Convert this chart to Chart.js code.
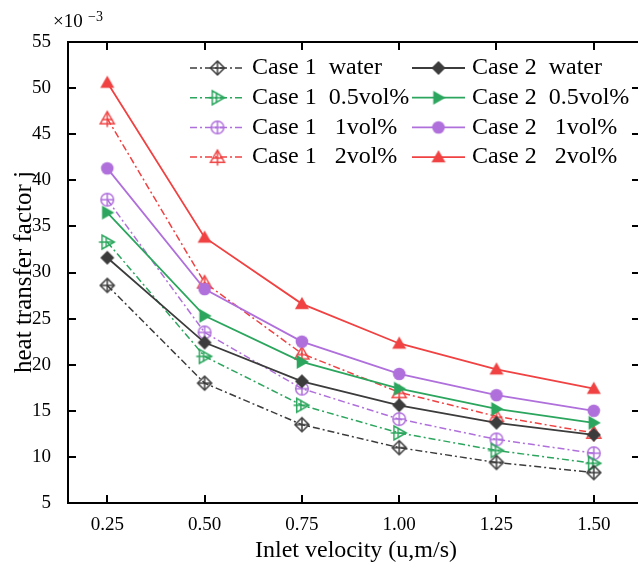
<!DOCTYPE html>
<html>
<head>
<meta charset="utf-8">
<script src="https://cdn.jsdelivr.net/npm/chart.js@4.4.0/dist/chart.umd.min.js"></script>
<style>
html, body { margin: 0; padding: 0; background: #fff; }
</style>
</head>
<body>
<canvas id="jChart" width="638" height="566"></canvas>
<script>
// data (j in units of 1e-3)
var velocity = [0.25, 0.50, 0.75, 1.00, 1.25, 1.50];
var case1Water = [28.6, 18.0, 13.5, 11.0, 9.4, 8.3];
var case1Vol05 = [33.3, 20.9, 15.6, 12.6, 10.7, 9.3];
var case1Vol1 = [37.9, 23.5, 17.4, 14.1, 11.9, 10.4];
var case1Vol2 = [46.7, 28.9, 21.2, 17.0, 14.4, 12.6];
var case2Water = [31.6, 22.4, 18.2, 15.6, 13.7, 12.4];
var case2Vol05 = [36.5, 25.3, 20.3, 17.4, 15.2, 13.7];
var case2Vol1 = [41.3, 28.2, 22.5, 19.0, 16.7, 15.0];
var case2Vol2 = [50.6, 33.8, 26.6, 22.3, 19.5, 17.4];
var xTicks = [0.25, 0.50, 0.75, 1.00, 1.25, 1.50];
var yTicks = [5, 10, 15, 20, 25, 30, 35, 40, 45, 50, 55];

var GRAY = '#3c3c3c';
var GREEN = '#2ca65e';
var PURPLE = '#b070dc';
var RED = '#f04242';
var FONT = '"Liberation Serif", "Times New Roman", serif';

//marker images
function makeMarker(shape, color, filled) {
    var s = 22, c = s / 2, r = 7;
    var cv = document.createElement('canvas');
    cv.width = s; cv.height = s;
    var g = cv.getContext('2d');
    g.strokeStyle = color;
    g.fillStyle = color;
    g.lineWidth = 1.5;
    g.beginPath();
    if (shape == 'diamond') {
        g.moveTo(c, c - r); g.lineTo(c + r, c); g.lineTo(c, c + r); g.lineTo(c - r, c);
    } else if (shape == 'circle') {
        g.arc(c, c, 6.3, 0, Math.PI * 2);
    } else if (shape == 'triUp') {
        g.moveTo(c, c - r); g.lineTo(c + r, c + r * 0.75); g.lineTo(c - r, c + r * 0.75);
    } else if (shape == 'triRight') {
        g.moveTo(c + r, c); g.lineTo(c - r * 0.75, c - r); g.lineTo(c - r * 0.75, c + r);
    }
    g.closePath();
    if (filled) {
        g.fill();
        return cv;
    }
    g.stroke();
    g.beginPath();
    if (shape == 'diamond' || shape == 'circle') {
        var rr = shape == 'circle' ? 6.3 : r;
        g.moveTo(c, c - rr); g.lineTo(c, c + rr);
        g.moveTo(c - rr, c); g.lineTo(c + rr, c);
    } else if (shape == 'triUp') {
        g.moveTo(c, c - r); g.lineTo(c, c + r * 1.2);
        g.moveTo(c - r * 0.75, c + r * 0.15); g.lineTo(c + r * 0.75, c + r * 0.15);
    } else {
        g.moveTo(c - r * 1.2, c); g.lineTo(c + r, c);
        g.moveTo(c - r * 0.15, c - r * 0.75); g.lineTo(c - r * 0.15, c + r * 0.75);
    }
    g.stroke();
    return cv;
}

function pts(arr) {
    return arr.map(function (v, i) { return { x: velocity[i], y: v }; });
}

var DASHDOT = [7, 3, 2, 3];

function series(label, values, color, shape, filled) {
    return {
        label: label,
        data: pts(values),
        borderColor: color,
        backgroundColor: color,
        borderWidth: filled ? 1.8 : 1.5,
        borderDash: filled ? [] : DASHDOT,
        pointStyle: makeMarker(shape, color, filled),
        pointRadius: 7,
        pointHoverRadius: 7,
        tension: 0,
        fill: false
    };
}

var datasets = [
    series('Case 2  water', case2Water, GRAY, 'diamond', true),
    series('Case 2  0.5vol%', case2Vol05, GREEN, 'triRight', true),
    series('Case 2   1vol%', case2Vol1, PURPLE, 'circle', true),
    series('Case 2   2vol%', case2Vol2, RED, 'triUp', true),
    series('Case 1  water', case1Water, GRAY, 'diamond', false),
    series('Case 1  0.5vol%', case1Vol05, GREEN, 'triRight', false),
    series('Case 1   1vol%', case1Vol1, PURPLE, 'circle', false),
    series('Case 1   2vol%', case1Vol2, RED, 'triUp', false)
];

//frame, inward ticks, titles, legend
var decorPlugin = {
    id: 'decor',
    afterDraw: function (chart) {
        var ctx = chart.ctx;
        var a = chart.chartArea;
        var xs = chart.scales.x, ys = chart.scales.y;
        var rightX = 640; // right axis sits just past the picture edge
        ctx.save();
        ctx.strokeStyle = '#000';
        ctx.lineWidth = 2;
        ctx.setLineDash([]);
        ctx.beginPath();
        ctx.moveTo(rightX, a.top); ctx.lineTo(a.left, a.top);
        ctx.lineTo(a.left, a.bottom); ctx.lineTo(rightX, a.bottom);
        xTicks.forEach(function (v) {
            var px = Math.round(xs.getPixelForValue(v));
            ctx.moveTo(px, a.bottom); ctx.lineTo(px, a.bottom - 8);
            ctx.moveTo(px, a.top); ctx.lineTo(px, a.top + 8);
        });
        yTicks.forEach(function (v) {
            var py = Math.round(ys.getPixelForValue(v));
            ctx.moveTo(a.left, py); ctx.lineTo(a.left + 8, py);
            ctx.moveTo(rightX, py); ctx.lineTo(rightX - 8, py);
        });
        ctx.stroke();

        ctx.fillStyle = '#000';
        ctx.textAlign = 'center';
        ctx.textBaseline = 'middle';
        ctx.font = '24px ' + FONT;
        ctx.fillText('Inlet velocity (u,m/s)', 356, 551);
        ctx.save();
        ctx.translate(24, 272);
        ctx.rotate(-Math.PI / 2);
        ctx.font = '25px ' + FONT;
        ctx.fillText('heat transfer factor j', 0, 0);
        ctx.restore();

        ctx.textAlign = 'left';
        ctx.textBaseline = 'alphabetic';
        ctx.font = '19px ' + FONT;
        ctx.fillText('\u00d710', 53, 27);
        ctx.font = '14px ' + FONT;
        ctx.fillText('\u22123', 88, 21);

        //legend
        ctx.font = '24px ' + FONT;
        ctx.textBaseline = 'middle';
        var cols = [{ x0: 190, x1: 245, tx: 252 }, { x0: 412, x1: 465, tx: 472 }];
        chart.data.datasets.forEach(function (ds, i) {
            var col = i < 4 ? cols[1] : cols[0];
            var row = i % 4;
            var y = 68 + row * 29.7;
            ctx.strokeStyle = ds.borderColor;
            ctx.lineWidth = ds.borderWidth;
            ctx.setLineDash(ds.borderDash);
            ctx.beginPath();
            ctx.moveTo(col.x0, y); ctx.lineTo(col.x1, y);
            ctx.stroke();
            ctx.setLineDash([]);
            var m = ds.pointStyle;
            ctx.drawImage(m, (col.x0 + col.x1) / 2 - m.width / 2, y - m.height / 2);
            ctx.fillStyle = '#000';
            ctx.fillText(ds.label, col.tx, y);
        });
        ctx.restore();
    }
};

new Chart(document.getElementById('jChart'), {
    type: 'line',
    data: { datasets: datasets },
    options: {
        responsive: false,
        animation: false,
        layout: { padding: { top: 42, right: 0, left: 0, bottom: 0 } },
        plugins: {
            legend: { display: false },
            tooltip: { enabled: false }
        },
        scales: {
            x: {
                type: 'linear',
                min: 0.149,
                max: 1.591,
                afterBuildTicks: function (scale) {
                    scale.ticks = xTicks.map(function (v) { return { value: v }; });
                },
                afterFit: function (scale) { scale.height = 63; },
                grid: { display: false },
                border: { display: false },
                ticks: {
                    color: '#000',
                    padding: 3,
                    maxRotation: 0,
                    font: { family: FONT, size: 19 },
                    callback: function (v) { return Number(v).toFixed(2); }
                }
            },
            y: {
                min: 5,
                max: 55,
                afterBuildTicks: function (scale) {
                    scale.ticks = yTicks.map(function (v) { return { value: v }; });
                },
                afterFit: function (scale) { scale.width = 68; },
                grid: { display: false },
                border: { display: false },
                ticks: {
                    color: '#000',
                    padding: 9,
                    font: { family: FONT, size: 19 }
                }
            }
        }
    },
    plugins: [decorPlugin]
});
</script>
</body>
</html>
